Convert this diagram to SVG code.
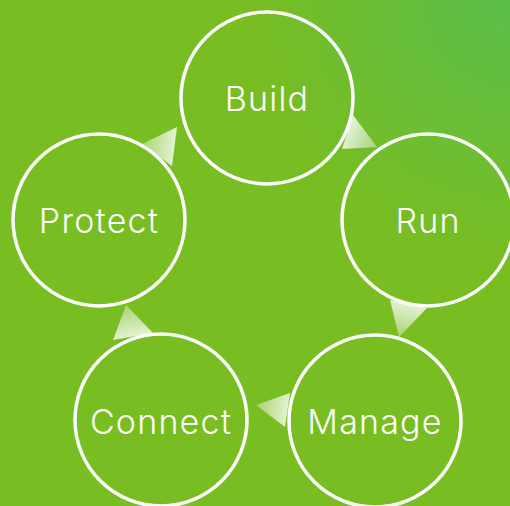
<svg xmlns="http://www.w3.org/2000/svg" width="510" height="506" viewBox="0 0 510 506">
<defs>
<radialGradient id="bg" cx="510" cy="0" r="260" gradientUnits="userSpaceOnUse">
<stop offset="0" stop-color="#5BBF4B"/>
<stop offset="1" stop-color="#78BD22"/>
</radialGradient>
<linearGradient id="a1" gradientUnits="userSpaceOnUse" x1="377" y1="147" x2="347" y2="132"><stop offset="0" stop-color="#fff" stop-opacity="0.35"/><stop offset="1" stop-color="#fff" stop-opacity="0.8"/></linearGradient>
<linearGradient id="a2" gradientUnits="userSpaceOnUse" x1="399" y1="337" x2="408" y2="304"><stop offset="0" stop-color="#fff" stop-opacity="0.35"/><stop offset="1" stop-color="#fff" stop-opacity="0.8"/></linearGradient>
<linearGradient id="a3" gradientUnits="userSpaceOnUse" x1="256" y1="405" x2="288" y2="410"><stop offset="0" stop-color="#fff" stop-opacity="0.35"/><stop offset="1" stop-color="#fff" stop-opacity="0.8"/></linearGradient>
<linearGradient id="a4" gradientUnits="userSpaceOnUse" x1="126" y1="305" x2="133" y2="337"><stop offset="0" stop-color="#fff" stop-opacity="0.35"/><stop offset="1" stop-color="#fff" stop-opacity="0.8"/></linearGradient>
<linearGradient id="a5" gradientUnits="userSpaceOnUse" x1="142" y1="144" x2="175" y2="147"><stop offset="0" stop-color="#fff" stop-opacity="0.35"/><stop offset="1" stop-color="#fff" stop-opacity="0.8"/></linearGradient>
<style>
.n circle{fill:none;stroke:#fff;stroke-width:3.5}
.n text{fill:#fff;font-family:Inter,"Open Sans","Liberation Sans",sans-serif;font-size:34px;font-weight:300;letter-spacing:1.2px;text-anchor:middle}
</style>
</defs>
<rect width="510" height="506" fill="url(#bg)"/>
<g id="connectors">
<polygon points="353,115 377,147 342,149" fill="url(#a1)"/>
<polygon points="390,300 427,308 399,337" fill="url(#a2)"/>
<polygon points="256,405 290,393 285,427" fill="url(#a3)"/>
<polygon points="126,305 153,333 113,340" fill="url(#a4)"/>
<polygon points="142,144 177,127 172,166" fill="url(#a5)"/>
</g>
<g id="build" class="n"><circle cx="267" cy="98" r="86"/><text x="267" y="111">Build</text></g>
<g id="run" class="n"><circle cx="428" cy="220" r="86"/><text x="428" y="233">Run</text></g>
<g id="manage" class="n"><circle cx="375" cy="421" r="86"/><text x="375" y="434">Manage</text></g>
<g id="connect" class="n"><circle cx="161" cy="420" r="86"/><text x="161" y="434">Connect</text></g>
<g id="protect" class="n"><circle cx="99" cy="220" r="86"/><text x="99" y="233">Protect</text></g>
</svg>
